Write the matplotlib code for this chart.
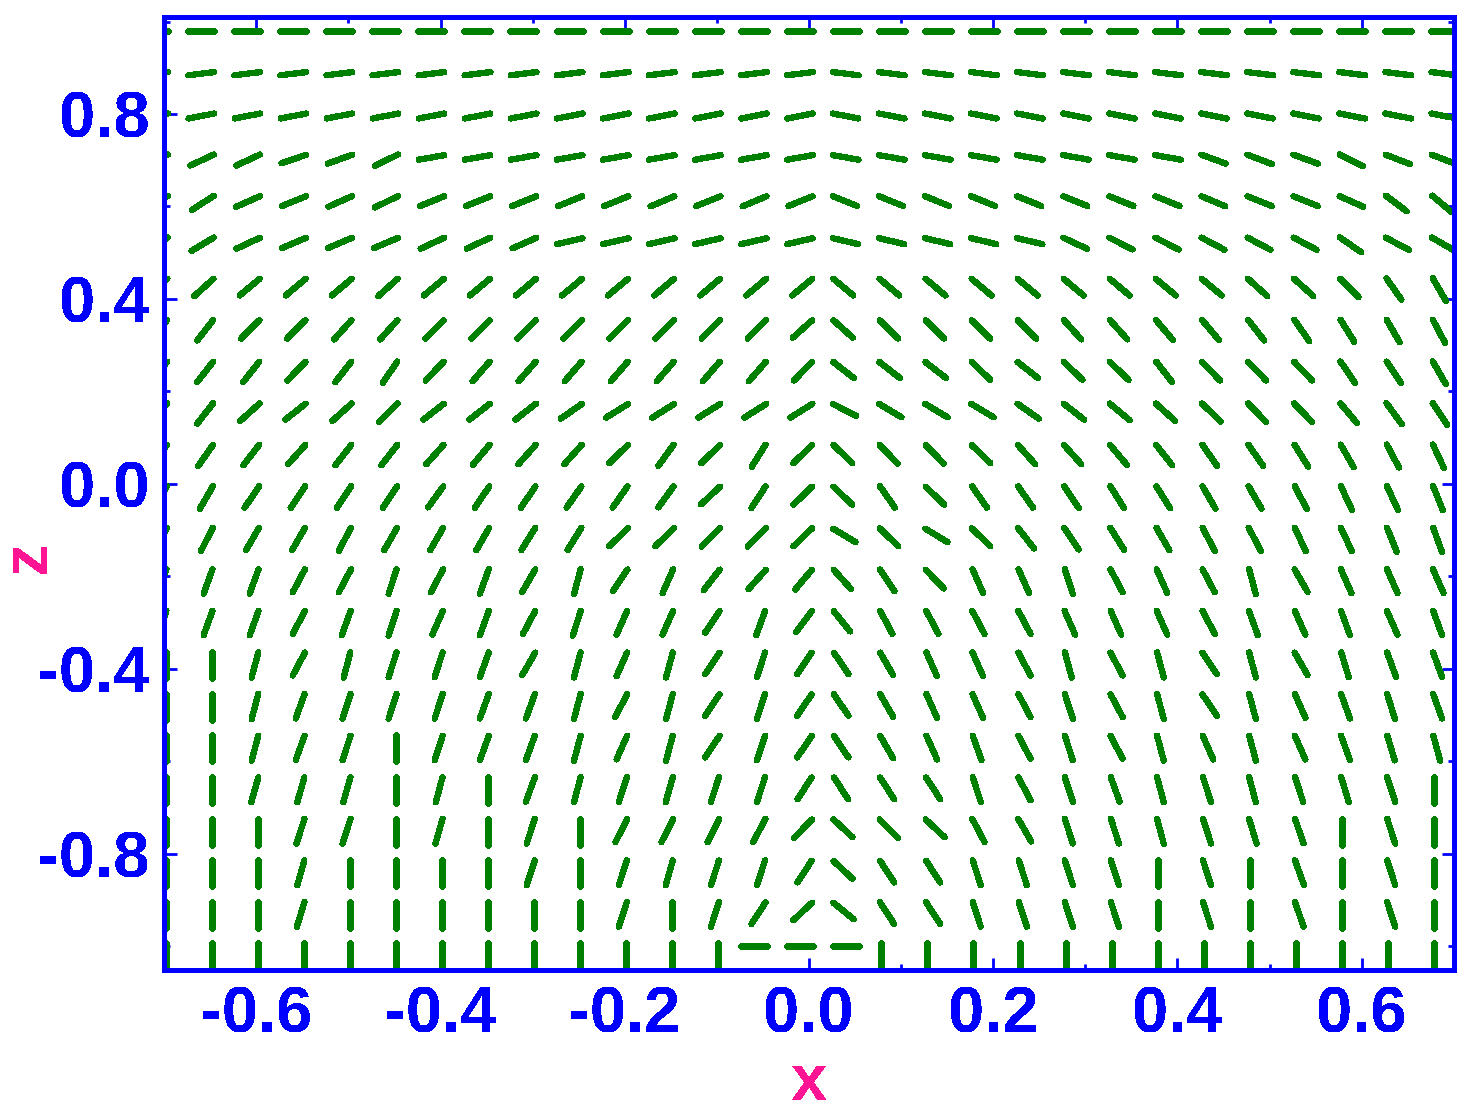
import numpy as np
import matplotlib
matplotlib.use("Agg")
import matplotlib.pyplot as plt
from matplotlib.collections import LineCollection
from matplotlib.ticker import FixedLocator, FormatStrFormatter

plt.rcParams['font.family'] = ['Liberation Sans', 'DejaVu Sans']
plt.rcParams['axes.unicode_minus'] = False
plt.rcParams['text.antialiased'] = False

# sample grid of the director field
x_grid = np.round(-0.71 + 0.05 * np.arange(29), 3)
z_grid = np.round(0.98 - 0.09 * np.arange(23), 3)

# director angle from the x axis in degrees, one list per row (top -> bottom)
# positive = "/" , negative = "\" , +-90 = vertical (left/right half)
r00 = [0, 0, 0, 0, 0, 0, 0, 0, 0, 0, 0, 0, 0, 0, 0, 0, 0, 0, 0, 0, 0, 0, 0, 0, 0, 0, 0, 0, 0]
r01 = [7, 7, 7, 7, 7, 7, 7, 7, 7, 7, 7, 7, 7, 7, 7, -7, -7, -7, -7, -7, -7, -7, -7, -7, -7, -7, -7, -7, -7]
r02 = [11, 11, 11, 11, 11, 11, 11, 11, 11, 11, 11, 11, 11, 11, 11, -11, -11, -11, -11, -11, -11, -11, -11, -11, -11, -11, -11, -11, -11]
r03 = [25, 25, 25, 19, 20, 26, 10, 10, 10, 10, 10, 10, 10, 10, 10, -10, -10, -10, -10, -10, -10, -10, -10, -20, -21, -20, -27, -21, -21]
r04 = [33, 33, 24, 22, 24, 26, 22, 22, 22, 22, 22, 23, 22, 23, 22, -22, -22, -22, -22, -22, -22, -22, -22, -23, -22, -22, -24, -37, -40]
r05 = [30, 31, 25, 23, 23, 23, 25, 25, 24, 13, 13, 13, 13, 13, 13, -13, -13, -13, -13, -13, -25, -27, -27, -28, -28, -28, -35, -28, -30]
r06 = [42, 42, 40, 40, 40, 42, 40, 40, 40, 40, 40, 40, 40, 40, 40, -40, -40, -40, -40, -40, -40, -40, -40, -40, -42, -42, -45, -55, -60]
r07 = [52, 52, 45, 45, 48, 48, 45, 45, 45, 45, 45, 45, 45, 45, 42, -42, -45, -45, -45, -45, -48, -48, -50, -50, -52, -55, -58, -60, -62]
r08 = [52, 52, 52, 46, 52, 56, 46, 49, 49, 49, 49, 49, 49, 49, 46, -38, -38, -38, -44, -38, -44, -44, -52, -46, -46, -46, -56, -56, -60]
r09 = [52, 52, 42, 38, 42, 45, 38, 38, 38, 35, 32, 32, 32, 32, 32, -27, -31, -31, -31, -35, -38, -40, -42, -44, -46, -46, -50, -54, -56]
r10 = [55, 55, 52, 48, 52, 52, 48, 50, 48, 48, 44, 54, 44, 58, 44, -44, -46, -46, -44, -48, -48, -50, -52, -55, -55, -58, -60, -62, -65]
r11 = [60, 60, 56, 56, 56, 56, 54, 56, 56, 55, 55, 54, 43, 57, 44, -44, -55, -44, -55, -55, -56, -58, -58, -60, -60, -62, -65, -65, -68]
r12 = [63, 63, 60, 60, 62, 60, 60, 60, 58, 58, 44, 44, 45, 45, 44, -31, -44, -31, -44, -52, -56, -58, -60, -62, -62, -65, -65, -68, -70]
r13 = [70, 70, 70, 62, 62, 72, 62, 70, 60, 75, 56, 66, 52, 48, 50, -48, -56, -46, -66, -66, -72, -62, -66, -62, -75, -60, -66, -66, -66]
r14 = [70, 70, 70, 62, 70, 72, 66, 70, 62, 72, 66, 66, 56, 70, 53, -51, -62, -62, -62, -62, -66, -66, -66, -62, -70, -66, -70, -66, -70]
r15 = [90, 90, 75, 62, 75, 72, 72, 70, 60, 75, 66, 75, 56, 72, 56, -56, -60, -66, -66, -62, -75, -62, -75, -56, -75, -60, -73, -70, -70]
r16 = [90, 90, 75, 70, 72, 72, 72, 70, 70, 75, 62, 75, 56, 72, 56, -56, -60, -66, -66, -62, -72, -62, -75, -56, -75, -66, -70, -73, -70]
r17 = [90, 90, 75, 70, 72, 90, 72, 70, 70, 75, 66, 75, 56, 72, 56, -56, -60, -66, -70, -62, -72, -62, -75, -66, -75, -66, -70, -73, -75]
r18 = [90, 90, 74, 74, 74, 90, 75, 90, 70, 75, 72, 74, 72, 72, 57, -57, -57, -57, -72, -62, -72, -70, -75, -72, -75, -72, -73, -72, -90]
r19 = [90, 90, 90, 72, 72, 90, 74, 90, 72, 90, 63, 63, 63, 62, 46, -43, -45, -43, -62, -60, -72, -72, -75, -72, -73, -71, -90, -72, -90]
r20 = [90, 90, 90, 74, 90, 90, 90, 90, 72, 90, 72, 74, 72, 72, 57, -43, -57, -57, -72, -72, -72, -72, -90, -72, -90, -70, -90, -72, -90]
r21 = [90, 90, 90, 73, 90, 90, 90, 90, 90, 90, 72, 90, 72, 57, 43, -39, -57, -57, -72, -72, -72, -72, -90, -72, -90, -71, -90, -72, -90]
r22 = [90, 90, 90, 90, 90, 90, 90, 90, 90, 90, 90, 90, 90, 0, 0, 0, -90, -90, -90, -90, -90, -90, -90, -90, -90, -90, -90, -90, -90]

angles = np.array([r00, r01, r02, r03, r04, r05, r06, r07, r08, r09, r10, r11,
                   r12, r13, r14, r15, r16, r17, r18, r19, r20, r21, r22], dtype=float)

xticks = [-0.6, -0.4, -0.2, 0.0, 0.2, 0.4, 0.6]
zticks = [-0.8, -0.4, 0.0, 0.4, 0.8]

W, H, DPI = 1483, 1112, 100
xlim = (-0.7, 0.7)
zlim = (-1.052, 1.0105)
ax_l, ax_r, ax_t, ax_b = 164.3, 1453.7, 16.7, 970.0

fig = plt.figure(figsize=(W / DPI, H / DPI), dpi=DPI)
ax = fig.add_axes([ax_l / W, 1 - ax_b / H, (ax_r - ax_l) / W, (ax_b - ax_t) / H])
ax.set_xlim(*xlim)
ax.set_ylim(*zlim)

# pixels per data unit
sx = (ax_r - ax_l) / (xlim[1] - xlim[0])
sz = (ax_b - ax_t) / (zlim[1] - zlim[0])

seg_len = 26.0   # px
swing = 10.5     # px, bars hinge a bit off centre
segs = []
for i, z0 in enumerate(z_grid):
    for k, x0 in enumerate(x_grid):
        a = angles[i, k]
        th = np.deg2rad(a if a >= 0 else 180 + a)
        s = np.sign(a)
        cx = s * swing * (1 - abs(np.cos(th)))
        cy = -swing * abs(np.sin(th))
        ux = 0.5 * seg_len * np.cos(th)
        uy = 0.5 * seg_len * np.sin(th)
        xc = x0 + cx / sx
        zc = z0 + cy / sz
        segs.append([(xc - ux / sx, zc - uy / sz), (xc + ux / sx, zc + uy / sz)])

lc = LineCollection(segs, colors='green', linewidths=3.8, capstyle='round',
                    antialiaseds=False)
ax.add_collection(lc)

for sp in ax.spines.values():
    sp.set_color('blue')
    sp.set_linewidth(2.5)
    sp.set_antialiased(False)

ax.xaxis.set_major_locator(FixedLocator(xticks))
ax.xaxis.set_minor_locator(FixedLocator([-0.5, -0.3, -0.1, 0.1, 0.3, 0.5]))
ax.yaxis.set_major_locator(FixedLocator(zticks))
ax.yaxis.set_minor_locator(FixedLocator([-1.0, -0.6, -0.2, 0.2, 0.6, 1.0]))
ax.xaxis.set_major_formatter(FormatStrFormatter('%.1f'))
ax.yaxis.set_major_formatter(FormatStrFormatter('%.1f'))

ax.tick_params(which='both', direction='in', top=True, right=True,
               color='blue', width=2.0, labelcolor='blue', labelsize=47)
ax.tick_params(which='major', length=9)
ax.tick_params(which='minor', length=4.5)
ax.tick_params(axis='x', pad=11)
ax.tick_params(axis='y', pad=10)
for lab in ax.get_xticklabels() + ax.get_yticklabels():
    lab.set_fontweight('bold')

fig.text(809 / W, 1 - 1083 / H, 'x', color='#ff1493', fontsize=47,
         fontweight='bold', ha='center', va='center')
fig.text(28 / W, 1 - 557 / H, 'z', color='#ff1493', fontsize=47,
         fontweight='bold', ha='center', va='center', rotation=90)

fig.savefig('out.png', dpi=DPI)
